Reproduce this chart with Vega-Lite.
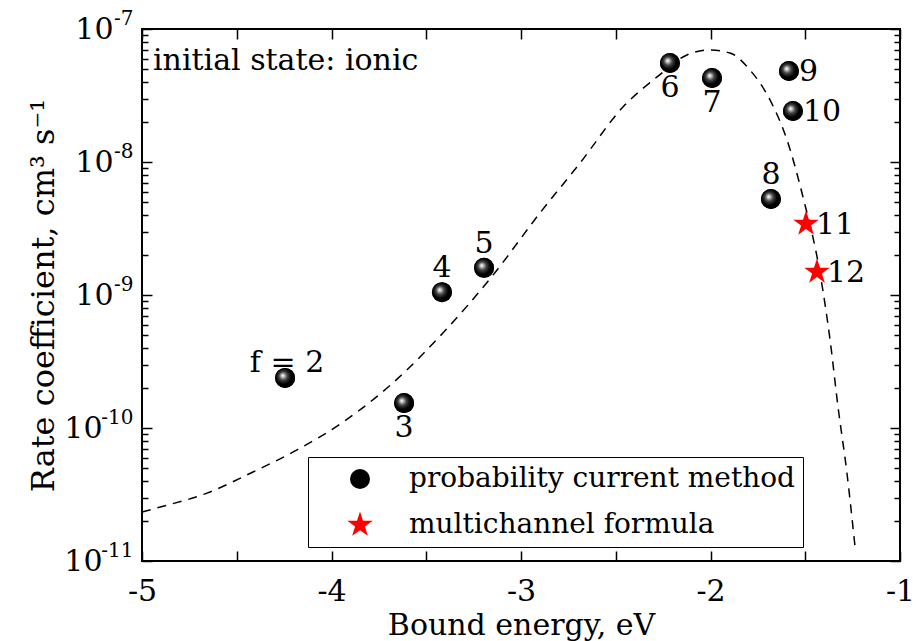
{
  "$schema": "https://vega.github.io/schema/vega-lite/v6.json",
  "width": 758,
  "height": 532,
  "autosize": {"type": "none"},
  "padding": {"left": 142, "top": 29, "right": 22, "bottom": 80},
  "background": "white",
  "config": {
    "font": "DejaVu Serif",
    "view": {"stroke": "black", "strokeWidth": 2},
    "axis": {
      "grid": false,
      "domain": false,
      "tickColor": "black",
      "tickWidth": 1.5,
      "labelFont": "DejaVu Serif",
      "labelColor": "black",
      "labelFontSize": 30,
      "labelFlush": false,
      "labelOverlap": false,
      "titleFont": "DejaVu Serif",
      "titleColor": "black",
      "titleFontWeight": "normal",
      "titleFontSize": 30
    },
    "legend": {"labelFont": "DejaVu Serif"},
    "text": {"font": "DejaVu Serif", "fontSize": 30, "color": "black"}
  },
  "datasets": {
    "curve": [
      {"E": -5.0, "rate": 2.33e-11},
      {"E": -4.942, "rate": 2.46e-11},
      {"E": -4.657, "rate": 3.24e-11},
      {"E": -4.414, "rate": 4.67e-11},
      {"E": -4.182, "rate": 6.84e-11},
      {"E": -3.955, "rate": 1.07e-10},
      {"E": -3.654, "rate": 2.33e-10},
      {"E": -3.412, "rate": 5.18e-10},
      {"E": -3.148, "rate": 1.41e-9},
      {"E": -2.9, "rate": 4.14e-9},
      {"E": -2.689, "rate": 9.8e-9},
      {"E": -2.462, "rate": 2.59e-8},
      {"E": -2.282, "rate": 4.36e-8},
      {"E": -2.124, "rate": 6.38e-8},
      {"E": -2.003, "rate": 6.95e-8},
      {"E": -1.897, "rate": 6.6e-8},
      {"E": -1.792, "rate": 4.92e-8},
      {"E": -1.686, "rate": 2.93e-8},
      {"E": -1.596, "rate": 1.46e-8},
      {"E": -1.512, "rate": 5.46e-9},
      {"E": -1.422, "rate": 1.46e-9},
      {"E": -1.369, "rate": 4.59e-10},
      {"E": -1.327, "rate": 1.44e-10},
      {"E": -1.28, "rate": 4.59e-11},
      {"E": -1.237, "rate": 1.27e-11}
    ],
    "points": [
      {"E": -4.245, "rate": 2.38e-10, "label": "f = 2", "method": "probability current method"},
      {"E": -3.617, "rate": 1.54e-10, "label": "3", "method": "probability current method"},
      {"E": -3.417, "rate": 1.05e-9, "label": "4", "method": "probability current method"},
      {"E": -3.195, "rate": 1.6e-9, "label": "5", "method": "probability current method"},
      {"E": -2.214, "rate": 5.55e-8, "label": "6", "method": "probability current method"},
      {"E": -1.992, "rate": 4.28e-8, "label": "7", "method": "probability current method"},
      {"E": -1.681, "rate": 5.27e-9, "label": "8", "method": "probability current method"},
      {"E": -1.586, "rate": 4.83e-8, "label": "9", "method": "probability current method"},
      {"E": -1.565, "rate": 2.42e-8, "label": "10", "method": "probability current method"},
      {"E": -1.496, "rate": 3.42e-9, "label": "11", "method": "multichannel formula"},
      {"E": -1.438, "rate": 1.49e-9, "label": "12", "method": "multichannel formula"}
    ]
  },
  "layer": [
    {
      "data": {"name": "curve"},
      "mark": {"type": "line", "color": "black", "strokeWidth": 1.5, "strokeDash": [9, 7], "interpolate": "monotone"},
      "encoding": {
        "x": {
          "field": "E", "type": "quantitative",
          "scale": {"domain": [-5, -1], "nice": false, "zero": false},
          "axis": {
            "orient": "bottom",
            "values": [-5, -4.5, -4, -3.5, -3, -2.5, -2, -1.5, -1],
            "tickSize": -10,
            "labelPadding": 49,
            "labelBaseline": "alphabetic",
            "labelExpr": "datum.value % 1 == 0 ? '-' + abs(datum.value) : ''",
            "title": "Bound energy, eV",
            "titleBaseline": "alphabetic",
            "titleY": 73
          }
        },
        "y": {
          "field": "rate", "type": "quantitative",
          "scale": {"type": "log", "domain": [1e-11, 1e-7], "nice": false},
          "axis": {
            "orient": "left",
            "values": [1e-11, 1e-10, 1e-9, 1e-8, 1e-7],
            "tickSize": -10,
            "labelExpr": "'10'",
            "labelAlign": "right",
            "labelBaseline": "middle",
            "labelPadding": {"condition": {"test": "datum.value < 5e-10", "value": 50}, "value": 39},
            "title": "Rate coefficient, cm³ s⁻¹",
            "titleFontSize": 32,
            "titleX": -89,
            "titleBaseline": "alphabetic"
          }
        }
      }
    },
    {
      "data": {"name": "points"},
      "mark": {"type": "point", "filled": true, "opacity": 1, "strokeWidth": 0},
      "encoding": {
        "x": {
          "field": "E", "type": "quantitative",
          "axis": {"orient": "top", "values": [-5, -4.5, -4, -3.5, -3, -2.5, -2, -1.5, -1], "tickSize": -10, "labels": false, "title": null}
        },
        "y": {
          "field": "rate", "type": "quantitative",
          "axis": {"orient": "right", "values": [1e-11, 1e-10, 1e-9, 1e-8, 1e-7], "tickSize": -10, "labels": false, "title": null}
        },
        "color": {
          "field": "method", "type": "nominal",
          "scale": {"domain": ["probability current method", "multichannel formula"], "range": ["#000000", "#ff0000"]},
          "legend": {
            "orient": "none",
            "legendX": 166,
            "legendY": 428,
            "title": null,
            "labelFont": "DejaVu Serif",
            "labelFontSize": 28,
            "labelColor": "black",
            "labelLimit": 700,
            "strokeColor": "black",
            "fillColor": "white",
            "padding": 8,
            "symbolOffset": 30,
            "labelOffset": 35,
            "rowPadding": 18,
            "symbolStrokeWidth": 0
          }
        },
        "shape": {
          "field": "method", "type": "nominal",
          "scale": {
            "domain": ["probability current method", "multichannel formula"],
            "range": ["circle", "M0,-1L0.2245,-0.309L0.9511,-0.309L0.3633,0.118L0.5878,0.809L0,0.382L-0.5878,0.809L-0.3633,0.118L-0.9511,-0.309L-0.2245,-0.309Z"]
          }
        },
        "size": {
          "field": "method", "type": "nominal",
          "scale": {"domain": ["probability current method", "multichannel formula"], "range": [400, 720]}
        }
      }
    },
    {
      "data": {"name": "points"},
      "transform": [{"filter": {"field": "method", "equal": "probability current method"}}],
      "mark": {
        "type": "point", "filled": true, "opacity": 1, "strokeWidth": 0, "shape": "circle", "size": 400,
        "fill": {"gradient": "radial", "x1": 0.38, "y1": 0.38, "r1": 0, "x2": 0.45, "y2": 0.45, "r2": 0.55,
                 "stops": [{"offset": 0, "color": "#ffffff"}, {"offset": 0.12, "color": "#cccccc"}, {"offset": 0.38, "color": "#444444"}, {"offset": 0.7, "color": "#000000"}, {"offset": 1, "color": "#000000"}]}
      },
      "encoding": {
        "x": {"field": "E", "type": "quantitative", "axis": null},
        "y": {"field": "rate", "type": "quantitative", "axis": null}
      }
    },
    {
      "data": {"values": [{"note": "initial state: ionic"}]},
      "mark": {"type": "text", "align": "left", "baseline": "alphabetic", "fontSize": 30},
      "encoding": {
        "x": {"datum": -4.942, "type": "quantitative", "axis": null},
        "y": {"datum": 4.9e-8, "type": "quantitative", "axis": null},
        "text": {"field": "note"}
      }
    },
    {
      "data": {"name": "points"},
      "transform": [{"filter": {"field": "label", "oneOf": ["4", "5", "8"]}}],
      "mark": {"type": "text", "align": "center", "baseline": "alphabetic", "dy": -15},
      "encoding": {
        "x": {"field": "E", "type": "quantitative", "axis": null},
        "y": {
          "field": "rate", "type": "quantitative",
          "axis": {
            "orient": "left",
            "values": [1e-11, 1e-10, 1e-9, 1e-8, 1e-7],
            "ticks": false,
            "labelExpr": "'-' + round(-log(datum.value) / LN10)",
            "labelAlign": "right",
            "labelBaseline": "middle",
            "labelFontSize": 20,
            "labelPadding": 9,
            "labelOffset": -11,
            "title": null
          }
        },
        "text": {"field": "label"}
      }
    },
    {
      "data": {"name": "points"},
      "transform": [{"filter": {"field": "label", "oneOf": ["3", "6", "7"]}}],
      "mark": {"type": "text", "align": "center", "baseline": "alphabetic", "dy": 34},
      "encoding": {
        "x": {"field": "E", "type": "quantitative", "axis": null},
        "y": {
          "field": "rate", "type": "quantitative",
          "axis": {
            "orient": "left",
            "values": [2e-11, 3e-11, 4e-11, 5e-11, 6e-11, 7e-11, 8e-11, 9e-11, 2e-10, 3e-10, 4e-10, 5e-10, 6e-10, 7e-10, 8e-10, 9e-10, 2e-9, 3e-9, 4e-9, 5e-9, 6e-9, 7e-9, 8e-9, 9e-9, 2e-8, 3e-8, 4e-8, 5e-8, 6e-8, 7e-8, 8e-8, 9e-8],
            "tickSize": -6,
            "labels": false,
            "title": null
          }
        },
        "text": {"field": "label"}
      }
    },
    {
      "data": {"name": "points"},
      "transform": [{"filter": {"field": "label", "equal": "f = 2"}}],
      "mark": {"type": "text", "align": "center", "baseline": "alphabetic", "dx": 2, "dy": -6},
      "encoding": {
        "x": {"field": "E", "type": "quantitative", "axis": null},
        "y": {
          "field": "rate", "type": "quantitative",
          "axis": {
            "orient": "right",
            "values": [2e-11, 3e-11, 4e-11, 5e-11, 6e-11, 7e-11, 8e-11, 9e-11, 2e-10, 3e-10, 4e-10, 5e-10, 6e-10, 7e-10, 8e-10, 9e-10, 2e-9, 3e-9, 4e-9, 5e-9, 6e-9, 7e-9, 8e-9, 9e-9, 2e-8, 3e-8, 4e-8, 5e-8, 6e-8, 7e-8, 8e-8, 9e-8],
            "tickSize": -6,
            "labels": false,
            "title": null
          }
        },
        "text": {"field": "label"}
      }
    },
    {
      "data": {"name": "points"},
      "transform": [{"filter": {"field": "label", "oneOf": ["9", "10", "11", "12"]}}],
      "mark": {"type": "text", "align": "left", "baseline": "alphabetic", "dx": 10, "dy": 10},
      "encoding": {
        "x": {"field": "E", "type": "quantitative", "axis": null},
        "y": {"field": "rate", "type": "quantitative", "axis": null},
        "text": {"field": "label"}
      }
    }
  ],
  "resolve": {"axis": {"x": "independent", "y": "independent"}}
}
